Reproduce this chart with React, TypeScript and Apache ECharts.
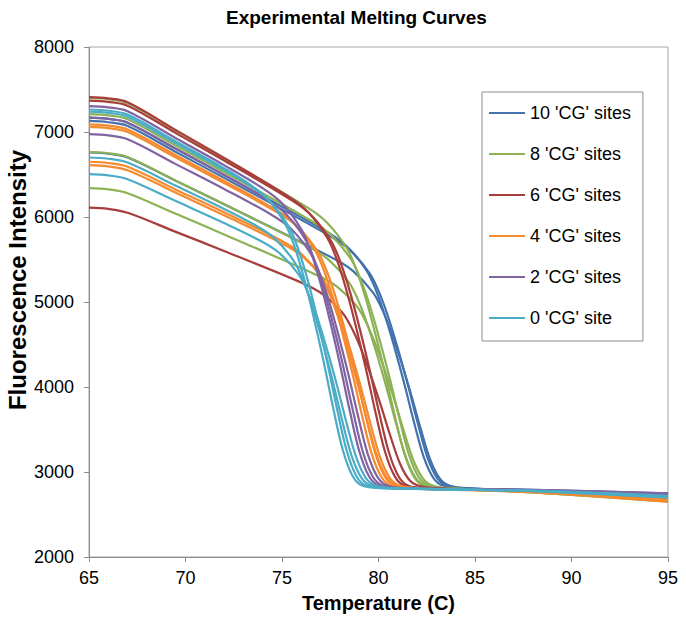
import React, { useEffect, useRef } from "react";
import * as echarts from "echarts";

const seriesNames = ["10 'CG' sites", "8 'CG' sites", "6 'CG' sites", "4 'CG' sites", "2 'CG' sites", "0 'CG' site"];
const seriesColors = ["#4372AE", "#8DB255", "#A83E3C", "#F58A2E", "#8064A2", "#4BACC6"];

const xTicks = { min: 65, max: 95, interval: 5 };
const yTicks = { min: 2000, max: 8000, interval: 1000 };

// [temperature (C), fluorescence intensity]
const cg10Curves: number[][][] = [
  [[65,7170],[66,7155],[67,7110],[69.5,6802],[72,6495],[77.35,5822],[78.35,5656],[79.35,5382],[79.85,5149],[80.35,4830],[80.85,4446],[81.35,4027],[81.85,3577],[82.35,3172],[82.85,2928],[83.35,2838],[84.35,2808],[88,2790],[95,2750]],
  [[65,7130],[66,7115],[67,7070],[69.5,6765],[72,6460],[77.55,5768],[78.55,5604],[79.55,5334],[80.05,5104],[80.55,4791],[81.05,4414],[81.55,4003],[82.05,3561],[82.55,3164],[83.05,2925],[83.55,2838],[84.55,2808],[88,2788],[95,2740]],
  [[65,6760],[66,6745],[67,6700],[69.5,6425],[72,6150],[77.7,5509],[78.7,5361],[79.7,5116],[80.2,4907],[80.7,4621],[81.2,4277],[81.7,3901],[82.2,3498],[82.7,3134],[83.2,2915],[83.7,2838],[84.7,2808],[88,2780],[95,2720]],
];

const cg8Curves: number[][][] = [
  [[65,7400],[66,7385],[67,7340],[69.5,7015],[72,6690],[76.35,6107],[77.35,5930],[78.35,5635],[78.85,5381],[79.35,5032],[79.85,4611],[80.35,4151],[80.85,3656],[81.35,3210],[81.85,2940],[82.35,2838],[83.35,2808],[88,2770],[95,2680]],
  [[65,7210],[66,7195],[67,7150],[69.5,6840],[72,6530],[76.6,5944],[77.6,5775],[78.6,5494],[79.1,5252],[79.6,4921],[80.1,4521],[80.6,4084],[81.1,3614],[81.6,3190],[82.1,2933],[82.6,2838],[83.6,2808],[88,2760],[95,2660]],
  [[65,6765],[66,6750],[67,6705],[69.5,6427],[72,6150],[76.45,5642],[77.45,5490],[78.45,5237],[78.95,5019],[79.45,4720],[79.95,4359],[80.45,3963],[80.95,3538],[81.45,3154],[81.95,2922],[82.45,2838],[83.45,2808],[88,2775],[95,2690]],
  [[65,6340],[66,6325],[67,6280],[69.5,6037],[72,5795],[76.85,5312],[77.85,5180],[78.85,4957],[79.35,4765],[79.85,4500],[80.35,4181],[80.85,3831],[81.35,3454],[81.85,3115],[82.35,2909],[82.85,2838],[83.85,2808],[88,2760],[95,2650]],
];

const cg6Curves: number[][][] = [
  [[65,7410],[66,7395],[67,7350],[69.5,7022],[72,6695],[75.35,6239],[76.35,6059],[77.35,5755],[77.85,5492],[78.35,5130],[78.85,4692],[79.35,4213],[79.85,3696],[80.35,3229],[80.85,2946],[81.35,2838],[82.35,2808],[88,2780],[95,2700]],
  [[65,7370],[66,7355],[67,7310],[69.5,6987],[72,6665],[75.55,6190],[76.55,6013],[77.55,5714],[78.05,5455],[78.55,5098],[79.05,4666],[79.55,4193],[80.05,3683],[80.55,3223],[81.05,2944],[81.55,2838],[82.55,2808],[88,2782],[95,2710]],
  [[65,6110],[66,6095],[67,6050],[69.5,5825],[72,5600],[76.1,5219],[77.1,5094],[78.1,4883],[78.6,4699],[79.1,4445],[79.6,4137],[80.1,3799],[80.6,3435],[81.1,3106],[81.6,2906],[82.1,2838],[83.1,2808],[88,2775],[95,2690]],
];

const cg4Curves: number[][][] = [
  [[65,7090],[66,7075],[67,7030],[69.5,6727],[72,6425],[74.65,6088],[75.65,5920],[76.65,5633],[77.15,5383],[77.65,5038],[78.15,4619],[78.65,4159],[79.15,3663],[79.65,3213],[80.15,2941],[80.65,2838],[81.65,2808],[88,2765],[95,2660]],
  [[65,7060],[66,7045],[67,7000],[69.5,6700],[72,6400],[74.85,6042],[75.85,5875],[76.85,5592],[77.35,5345],[77.85,5005],[78.35,4592],[78.85,4139],[79.35,3649],[79.85,3207],[80.35,2939],[80.85,2838],[81.85,2808],[88,2770],[95,2680]],
  [[65,6650],[66,6635],[67,6590],[69.5,6322],[72,6055],[74.95,5724],[75.95,5576],[76.95,5321],[77.45,5099],[77.95,4792],[78.45,4420],[78.95,4010],[79.45,3569],[79.95,3169],[80.45,2927],[80.95,2838],[81.95,2808],[88,2760],[95,2650]],
  [[65,6610],[66,6595],[67,6550],[69.5,6285],[72,6020],[75.1,5677],[76.1,5530],[77.1,5279],[77.6,5060],[78.1,4758],[78.6,4391],[79.1,3989],[79.6,3555],[80.1,3163],[80.6,2925],[81.1,2838],[82.1,2808],[88,2765],[95,2670]],
];

const cg2Curves: number[][][] = [
  [[65,7305],[66,7290],[67,7245],[69.5,6927],[72,6610],[74,6338],[75,6161],[76,5855],[76.5,5587],[77,5215],[77.5,4764],[78,4268],[78.5,3732],[79,3247],[79.5,2952],[80,2840],[81,2810],[88,2790],[95,2750]],
  [[65,7170],[66,7155],[67,7110],[69.5,6802],[72,6495],[74.2,6207],[75.2,6035],[76.2,5740],[76.7,5482],[77.2,5124],[77.7,4690],[78.2,4213],[78.7,3697],[79.2,3230],[79.7,2947],[80.2,2840],[81.2,2810],[88,2788],[95,2740]],
  [[65,6975],[66,6960],[67,6915],[69.5,6622],[72,6330],[74.45,6027],[75.45,5864],[76.45,5584],[76.95,5339],[77.45,5000],[77.95,4589],[78.45,4137],[78.95,3649],[79.45,3207],[79.95,2940],[80.45,2840],[81.45,2810],[88,2785],[95,2730]],
];

const cg0Curves: number[][][] = [
  [[65,7265],[66,7250],[67,7205],[69.5,6890],[72,6575],[73.15,6412],[74.15,6234],[75.15,5925],[75.65,5652],[76.15,5274],[76.65,4813],[77.15,4306],[77.65,3756],[78.15,3259],[78.65,2956],[79.15,2840],[80.15,2810],[88,2780],[95,2720]],
  [[65,7240],[66,7225],[67,7180],[69.5,6867],[72,6555],[73.35,6368],[74.35,6192],[75.35,5887],[75.85,5617],[76.35,5243],[76.85,4788],[77.35,4286],[77.85,3744],[78.35,3253],[78.85,2954],[79.35,2840],[80.35,2810],[88,2778],[95,2710]],
  [[65,6700],[66,6685],[67,6640],[69.5,6367],[72,6095],[73.6,5905],[74.6,5752],[75.6,5486],[76.1,5252],[76.6,4926],[77.1,4530],[77.6,4094],[78.1,3623],[78.6,3195],[79.1,2936],[79.6,2840],[80.6,2810],[88,2775],[95,2700]],
  [[65,6505],[66,6490],[67,6445],[69.5,6187],[72,5930],[73.85,5724],[74.85,5579],[75.85,5329],[76.35,5108],[76.85,4801],[77.35,4428],[77.85,4018],[78.35,3574],[78.85,3172],[79.35,2928],[79.85,2840],[80.85,2810],[88,2775],[95,2700]],
];

const groups = [cg10Curves, cg8Curves, cg6Curves, cg4Curves, cg2Curves, cg0Curves];

const FONT = "'Liberation Sans', Arial, sans-serif";

export default function App() {
  const ref = useRef<HTMLDivElement>(null);
  useEffect(() => {
    const chart = echarts.init(ref.current!, null, { renderer: "svg" });
    const series: any[] = [];
    groups.forEach((curves, gi) => {
      curves.forEach((c) => {
        series.push({
          type: "line",
          name: seriesNames[gi],
          data: c,
          smooth: 0.35,
          symbol: "none",
          showSymbol: false,
          lineStyle: { color: seriesColors[gi], width: 2.2 },
          itemStyle: { color: seriesColors[gi] },
          emphasis: { disabled: true },
        });
      });
    });
    chart.setOption({
      animation: false,
      backgroundColor: "#ffffff",
      title: {
        text: "Experimental Melting Curves",
        left: 221,
        top: 3,
        textStyle: { fontFamily: FONT, fontSize: 19, fontWeight: "bold", color: "#000" },
      },
      legend: {
        data: seriesNames.map((n) => ({ name: n, icon: "rect" })),
        orient: "vertical",
        left: 482,
        top: 92,
        itemWidth: 36,
        itemHeight: 2,
        itemGap: 23,
        padding: [12, 12, 14, 7],
        borderColor: "#8C8C8C",
        borderWidth: 1,
        backgroundColor: "#fff",
        selectedMode: false,
        textStyle: { fontFamily: FONT, fontSize: 18, color: "#000" },
      },
      grid: {
        left: 89,
        right: 18,
        top: 47,
        bottom: 65,
        show: true,
        borderColor: "#A6A6A6",
        borderWidth: 1,
        outerBoundsMode: "none",
        containLabel: false,
      },
      graphic: [
        {
          type: "text",
          x: 17,
          y: 280,
          rotation: Math.PI / 2,
          style: {
            text: "Fluorescence Intensity",
            font: `bold 24px ${FONT}`,
            fill: "#000",
            align: "center",
            verticalAlign: "middle",
          },
        },
      ],
      xAxis: {
        type: "value",
        min: xTicks.min,
        max: xTicks.max,
        interval: xTicks.interval,
        name: "Temperature (C)",
        nameLocation: "middle",
        nameGap: 36,
        nameTextStyle: { fontFamily: FONT, fontSize: 20, fontWeight: "bold", color: "#000" },
        axisLine: { show: true, lineStyle: { color: "#8C8C8C", width: 1 } },
        axisTick: { show: true, inside: false, length: 5, lineStyle: { color: "#8C8C8C" } },
        axisLabel: { fontFamily: FONT, fontSize: 18, color: "#000", margin: 12, formatter: (v: number) => String(v) },
        splitLine: { show: false },
      },
      yAxis: {
        type: "value",
        min: yTicks.min,
        max: yTicks.max,
        interval: yTicks.interval,
        axisLine: { show: true, lineStyle: { color: "#8C8C8C", width: 1 } },
        axisTick: { show: true, inside: false, length: 5, lineStyle: { color: "#8C8C8C" } },
        axisLabel: { fontFamily: FONT, fontSize: 18, color: "#000", margin: 15, formatter: (v: number) => String(v) },
        splitLine: { show: false },
      },
      series,
    });
    return () => chart.dispose();
  }, []);
  return (
    <div
      ref={ref}
      style={{ position: "fixed", left: 0, top: 0, width: 686, height: 622, background: "#fff" }}
    />
  );
}
